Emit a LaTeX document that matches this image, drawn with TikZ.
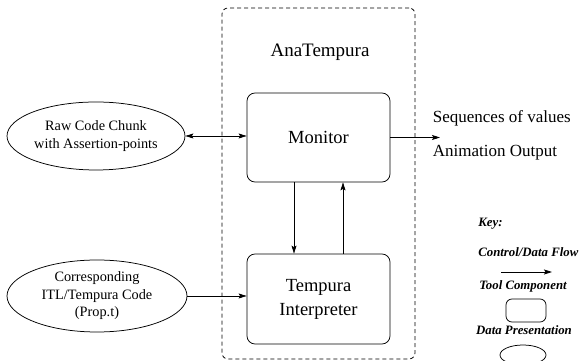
\documentclass[tikz,border=0pt]{standalone}
\usepackage{fontspec}
\setmainfont{Liberation Serif}
\usetikzlibrary{arrows.meta,shapes.geometric}

\begin{document}
\begin{tikzpicture}[x=1pt,y=1pt,line width=0.75pt,
    >={Stealth[length=8pt,width=5pt,inset=1.5pt]},
    toolbox/.style={draw,rounded corners=8pt,inner sep=0pt,align=center,
      font=\fontsize{18.5}{24}\selectfont},
    datashape/.style={draw,ellipse,inner sep=0pt,align=center,
      font=\fontsize{14.3}{17.5}\selectfont},
    keytext/.style={inner sep=0pt,font=\fontsize{12.8}{14}\selectfont\bfseries\itshape}]
       \useasboundingbox (0,0) rectangle (579,361);
       \node[draw,dash pattern=on 4pt off 3pt,rounded corners=6pt,
         minimum width=193pt,minimum height=351pt] (ana) at (318.5,177.5) {};
       \node[font=\fontsize{19}{22}\selectfont] (anatitle) at (320.0,309.0) {AnaTempura};
       \node[toolbox,minimum width=143pt,minimum height=89pt] (monitor)
         at (318.5,223.5) {Monitor};
       \node[toolbox,minimum width=143pt,minimum height=90pt] (interp)
         at (318.5,62.0) {Tempura\\Interpreter};
       \node[datashape,minimum width=178pt,minimum height=68pt] (raw)
         at (96.0,225.0) {Raw Code Chunk\\with Assertion-points};
       \node[datashape,minimum width=180pt,minimum height=72pt] (prop)
         at (97.0,65.0) {Corresponding\\ITL/Tempura Code\\(Prop.t)};
       \coordinate (out) at (440.0,223.5);
       \node[anchor=west,inner sep=0pt,font=\fontsize{17}{20}\selectfont] (seq)
         at (432.5,243.0) {Sequences of values};
       \node[anchor=west,inner sep=0pt,font=\fontsize{17}{20}\selectfont] (anim)
         at (432.5,208.0) {Animation Output};
       \draw[<->] (raw.east) -- (raw.east -| monitor.west);
       \draw[->] (prop.east) -- (prop.east -| interp.west);
       \draw[->] (monitor.east) -- (out);
       \draw[->] ([xshift=-24.5pt]monitor.south) -- ([xshift=-24.5pt]interp.north);
       \draw[->] ([xshift=24.5pt]interp.north) -- ([xshift=24.5pt]monitor.south);
       \node[keytext,anchor=west] (key) at (478.0,137.0) {Key:};
       \node[keytext,anchor=west] (flowtext) at (478.0,109.0) {Control/Data Flow};
       \coordinate (keyA) at (501.0,89.0);
       \coordinate (keyB) at (552.0,89.0);
       \draw[->] (keyA) -- (keyB);
       \node[keytext] (tooltext) at (523.0,75.0) {Tool Component};
       \node[draw,rounded corners=6pt,minimum width=40pt,minimum height=23pt]
         (keytool) at (526.0,50.5) {};
       \node[keytext] (datatext) at (524.0,31.0) {Data Presentation};
       \node[draw,ellipse,minimum width=46pt,minimum height=20pt] (keydata)
         at (523.0,6.0) {};
\end{tikzpicture}
\end{document}
